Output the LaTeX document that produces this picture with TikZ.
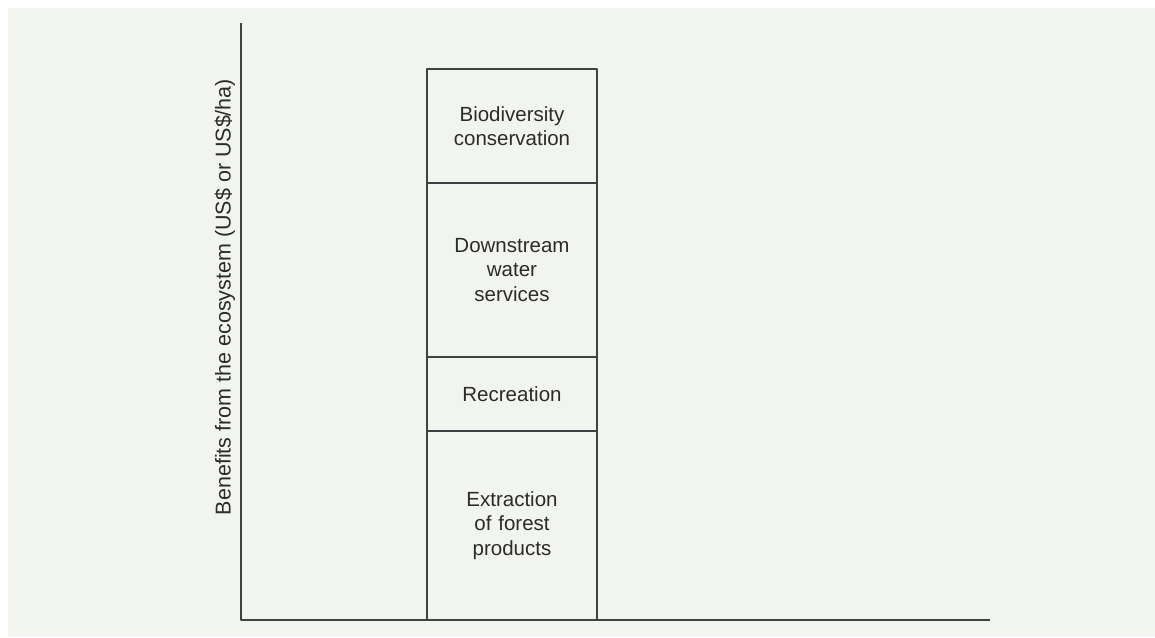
\documentclass[tikz,border=0pt]{standalone}
\usepackage{fontspec}
\setmainfont{Liberation Sans}
\usetikzlibrary{positioning}
\definecolor{panel}{HTML}{F2F4EE}
\definecolor{ink}{HTML}{3C4341}
\definecolor{txt}{HTML}{2B2B2B}
\begin{document}
\begin{tikzpicture}[x=0.5pt, y=0.5pt, line width=1pt, line join=round, color=ink, text=txt,
		font=\fontsize{10.25}{12.3}\selectfont, node distance=0pt,
		seg/.style={draw=ink, line width=1pt, minimum width=85pt, text width=80pt, inner sep=0pt, outer sep=0pt, align=center}]
			\def\xmin{241}\def\xmax{990}\def\ymin{17}\def\ymax{614}
			\useasboundingbox (0,0) rectangle (1155,637);
			\fill[white] (0,0) rectangle (1155,637);
			\fill[panel] (8,0) rectangle (1155,629);
			\coordinate (origin) at (\xmin,\ymin);
			\coordinate (ytop) at (\xmin,\ymax);
			\coordinate (xend) at (\xmax,\ymin);
			\node[seg, minimum height=94.5pt, anchor=south west] (extraction) at (427,\ymin) {Extraction\\of forest\\products};
			\node[seg, minimum height=37pt, above=of extraction] (recreation) {Recreation};
			\node[seg, minimum height=87pt, above=of recreation] (water) {Downstream\\water\\services};
			\node[seg, minimum height=57pt, above=of water] (biodiversity) {Biodiversity\\conservation};
			\draw (ytop)--(origin)--(xend);
			\node[rotate=90, font=\fontsize{10.75}{13}\selectfont] (ylabel) at (225,340) {Benefits from the ecosystem (US\$ or US\$/ha)};
		\end{tikzpicture}
\end{document}
